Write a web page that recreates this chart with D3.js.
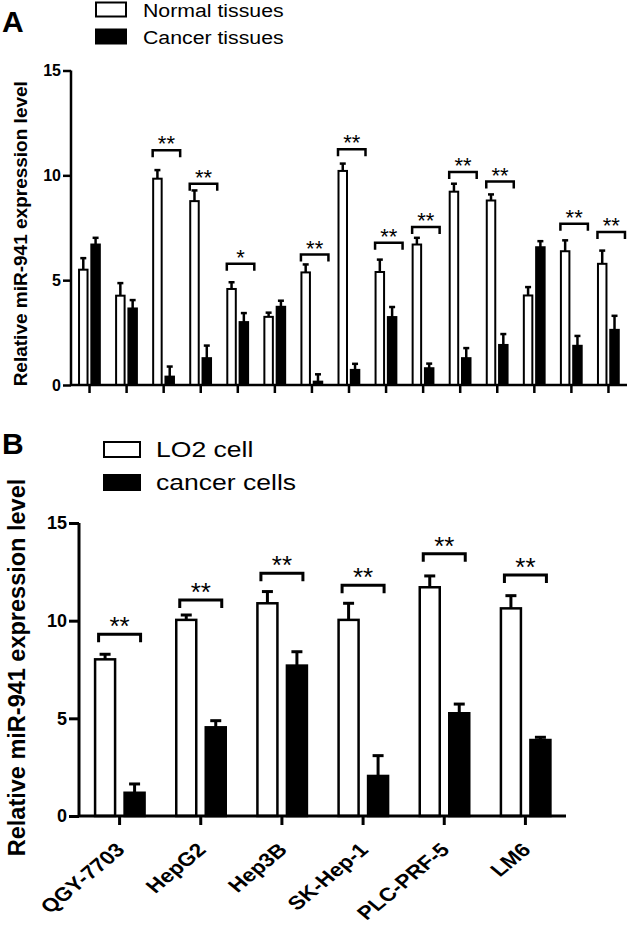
<!DOCTYPE html>
<html>
<head>
<meta charset="utf-8">
<script src="https://cdn.jsdelivr.net/npm/d3@7"></script>
<style>
  html, body { margin: 0; padding: 0; background: #fff; }
  svg { display: block; font-family: "Liberation Sans", Arial, sans-serif; }
</style>
</head>
<body>
<svg id="chart" width="633" height="926"></svg>
<script>
// ---- panel A: 15 paired tissue samples ----
var groupsA = ["1", "2", "3", "4", "5", "6", "7", "8", "9", "10", "11", "12", "13", "14", "15"];
var normalA = [5.50, 4.26, 9.84, 8.77, 4.58, 3.25, 5.37, 10.21, 5.39, 6.70, 9.22, 8.80, 4.27, 6.38, 5.78];
var normalErrA = [0.55, 0.60, 0.41, 0.51, 0.32, 0.20, 0.38, 0.35, 0.59, 0.32, 0.38, 0.29, 0.40, 0.52, 0.63];
var cancerA = [6.70, 3.65, 0.40, 1.28, 3.00, 3.73, 0.16, 0.72, 3.24, 0.80, 1.28, 1.91, 6.57, 1.87, 2.63];
var cancerErrA = [0.32, 0.40, 0.48, 0.60, 0.43, 0.29, 0.35, 0.29, 0.48, 0.22, 0.48, 0.52, 0.29, 0.47, 0.67];
var sigA = ["", "", "**", "**", "*", "", "**", "**", "**", "**", "**", "**", "", "**", "**"];
var bracketA = [null, null, 11.2, 9.6, 5.78, null, 6.22, 11.24, 6.78, 7.54, 10.16, 9.7, null, 7.69, 7.3];
var legendA = ["Normal tissues", "Cancer tissues"];
var ticksA = [0, 5, 10, 15];

// ---- panel B: cell lines ----
var cellLines = ["QGY-7703", "HepG2", "Hep3B", "SK-Hep-1", "PLC-PRF-5", "LM6"];
var lo2B = [8.02, 10.04, 10.89, 10.04, 11.71, 10.63];
var lo2ErrB = [0.26, 0.25, 0.60, 0.85, 0.58, 0.65];
var cancerB = [1.19, 4.54, 7.70, 2.05, 5.26, 3.89];
var cancerErrB = [0.45, 0.34, 0.71, 1.04, 0.47, 0.14];
var sigB = ["**", "**", "**", "**", "**", "**"];
var bracketB = [9.30, 11.06, 12.43, 11.81, 13.42, 12.34];
var legendB = ["LO2 cell", "cancer cells"];
var ticksB = [0, 5, 10, 15];

var yLabel = "Relative miR-941 expression level";
var svg = d3.select("#chart");

function drawPanel(cfg) {
    var g = svg.append("g");
    var x = d3.scaleBand().domain(cfg.groups).range([cfg.left, cfg.right]);
    var y = d3.scaleLinear().domain([0, 15]).range([cfg.bottom, cfg.top]);

    var rows = cfg.groups.map(function (k, i) {
        return {key: k, n: cfg.normal[i], ne: cfg.normalErr[i], c: cfg.cancer[i], ce: cfg.cancerErr[i],
                sig: cfg.sig[i], br: cfg.bracket[i]};
    });
    var mid = function (d) { return x(d.key) + x.bandwidth() / 2; };

    // error bars (upper only) - drawn before bars
    function errs(cls, xo, val, err) {
        var e = g.selectAll("." + cls).data(rows).enter().append("g").attr("class", cls)
            .attr("stroke", "#000").attr("stroke-width", cfg.errW);
        e.append("line")
            .attr("x1", function (d) { return mid(d) + xo; })
            .attr("x2", function (d) { return mid(d) + xo; })
            .attr("y1", function (d) { return y(val(d)); })
            .attr("y2", function (d) { return y(val(d) + err(d)); });
        e.append("line")
            .attr("x1", function (d) { return mid(d) + xo - cfg.cap / 2; })
            .attr("x2", function (d) { return mid(d) + xo + cfg.cap / 2; })
            .attr("y1", function (d) { return y(val(d) + err(d)); })
            .attr("y2", function (d) { return y(val(d) + err(d)); });
    }
    errs("errN", cfg.nOff + cfg.barW / 2, function (d) { return d.n; }, function (d) { return d.ne; });
    errs("errC", cfg.cOff + cfg.barW / 2, function (d) { return d.c; }, function (d) { return d.ce; });

    g.selectAll(".barN").data(rows).enter().append("rect")
        .attr("x", function (d) { return mid(d) + cfg.nOff; })
        .attr("y", function (d) { return y(d.n); })
        .attr("width", cfg.barW)
        .attr("height", function (d) { return y(0) - y(d.n); })
        .attr("fill", "#fff").attr("stroke", "#000").attr("stroke-width", cfg.barStroke);
    g.selectAll(".barC").data(rows).enter().append("rect")
        .attr("x", function (d) { return mid(d) + cfg.cOff; })
        .attr("y", function (d) { return y(d.c); })
        .attr("width", cfg.barW)
        .attr("height", function (d) { return y(0) - y(d.c); })
        .attr("fill", "#000").attr("stroke", "#000").attr("stroke-width", cfg.barStroke);

    // significance brackets
    var sig = rows.filter(function (d) { return d.br !== null; });
    var b = g.selectAll(".sig").data(sig).enter().append("g");
    b.append("path")
        .attr("d", function (d) {
            var x0 = mid(d) + cfg.brL, x1 = mid(d) + cfg.brR, yy = y(d.br);
            return "M" + x0 + "," + (yy + cfg.brLeg) + "V" + yy + "H" + x1 + "V" + (yy + cfg.brLeg);
        })
        .attr("fill", "none").attr("stroke", "#000").attr("stroke-width", cfg.brW);
    b.append("text")
        .attr("x", function (d) { return mid(d) + (cfg.brL + cfg.brR) / 2; })
        .attr("y", function (d) { return y(d.br) + cfg.starDy; })
        .attr("text-anchor", "middle")
        .attr("font-size", cfg.starSize)
        .text(function (d) { return d.sig; });

    // axes
    var ya = g.append("g").attr("transform", "translate(" + cfg.left + ",0)")
        .call(d3.axisLeft(y).tickValues(cfg.ticks).tickSize(cfg.yTick).tickPadding(2));
    ya.select(".domain").attr("d", "M0," + cfg.top + "V" + cfg.bottom);
    ya.selectAll("line, path").attr("stroke", "#000").attr("stroke-width", cfg.axisW);
    ya.selectAll("text").attr("font-size", cfg.tickFont).attr("font-weight", "bold").attr("fill", "#000");

    var xa = g.append("g").attr("transform", "translate(0," + cfg.bottom + ")")
        .call(d3.axisBottom(x).tickSize(cfg.xTick).tickFormat(""));
    xa.select(".domain").attr("d", "M" + cfg.left + ",0H" + cfg.right);
    xa.selectAll("line, path").attr("stroke", "#000").attr("stroke-width", cfg.axisW);

    if (cfg.xLabels) {
        // labels in the source are slightly stretched sideways
        xa.selectAll(".tick text").remove();
        g.selectAll(".xl").data(rows).enter().append("text")
            .attr("transform", function (d) {
                return "translate(" + (mid(d) + 6.5) + "," + (cfg.bottom + 35) + ") scale(1.2,1) rotate(-45)";
            })
            .attr("text-anchor", "end")
            .attr("font-size", 19).attr("font-weight", "bold")
            .text(function (d) { return d.key; });
    }

    // y label
    g.append("text")
        .attr("transform", "translate(" + cfg.labX + "," + ((cfg.top + cfg.bottom) / 2 + cfg.labDy) + ") rotate(-90)")
        .attr("text-anchor", "middle")
        .attr("font-size", cfg.labSize).attr("font-weight", "bold")
        .text(yLabel);

    // panel letter
    g.append("text").attr("x", 2).attr("y", cfg.letterY)
        .attr("font-size", 30).attr("font-weight", "bold").text(cfg.letter);

    // legend
    var lg = g.selectAll(".leg").data(cfg.legend).enter().append("g")
        .attr("transform", function (d, i) { return "translate(" + cfg.legX + "," + (cfg.legY + i * cfg.legStep) + ")"; });
    lg.append("rect").attr("width", cfg.legW).attr("height", cfg.legH)
        .attr("fill", function (d, i) { return i === 0 ? "#fff" : "#000"; })
        .attr("stroke", "#000").attr("stroke-width", 2);
    lg.append("text")
        .attr("transform", "translate(" + (cfg.legW + cfg.legGap) + "," + cfg.legH + ") scale(" + cfg.legSx + ",1)")
        .attr("font-size", cfg.legFont).text(function (d) { return d; });
}

drawPanel({
    letter: "A", letterY: 32,
    groups: groupsA, normal: normalA, normalErr: normalErrA, cancer: cancerA, cancerErr: cancerErrA,
    sig: sigA, bracket: bracketA, ticks: ticksA, legend: legendA,
    left: 71, right: 627, top: 70.5, bottom: 385,
    barW: 8.5, nOff: -10.5, cOff: 1.8, barStroke: 2, errW: 2.5, cap: 6,
    brL: -11, brR: 16.5, brLeg: 7, brW: 2.5, starDy: 1, starSize: 22,
    axisW: 2.5, yTick: 8, xTick: 8, tickFont: 16,
    labX: 27, labDy: 6, labSize: 19,
    legX: 96, legY: 2.5, legStep: 27, legW: 30, legH: 14, legGap: 17, legFont: 19, legSx: 1.12,
    xLabels: false
});

drawPanel({
    letter: "B", letterY: 454,
    groups: cellLines, normal: lo2B, normalErr: lo2ErrB, cancer: cancerB, cancerErr: cancerErrB,
    sig: sigB, bracket: bracketB, ticks: ticksB, legend: legendB,
    left: 79, right: 566, top: 523, bottom: 816,
    barW: 20, nOff: -24.5, cOff: 5, barStroke: 2.5, errW: 3, cap: 11,
    brL: -21, brR: 21, brLeg: 8, brW: 3, starDy: 1, starSize: 26,
    axisW: 3, yTick: 10, xTick: 9, tickFont: 18,
    labX: 25, labDy: -2, labSize: 23.5,
    legX: 104, legY: 442, legStep: 33, legW: 36, legH: 15, legGap: 16, legFont: 22.5, legSx: 1.18,
    xLabels: true
});
</script>
</body>
</html>
